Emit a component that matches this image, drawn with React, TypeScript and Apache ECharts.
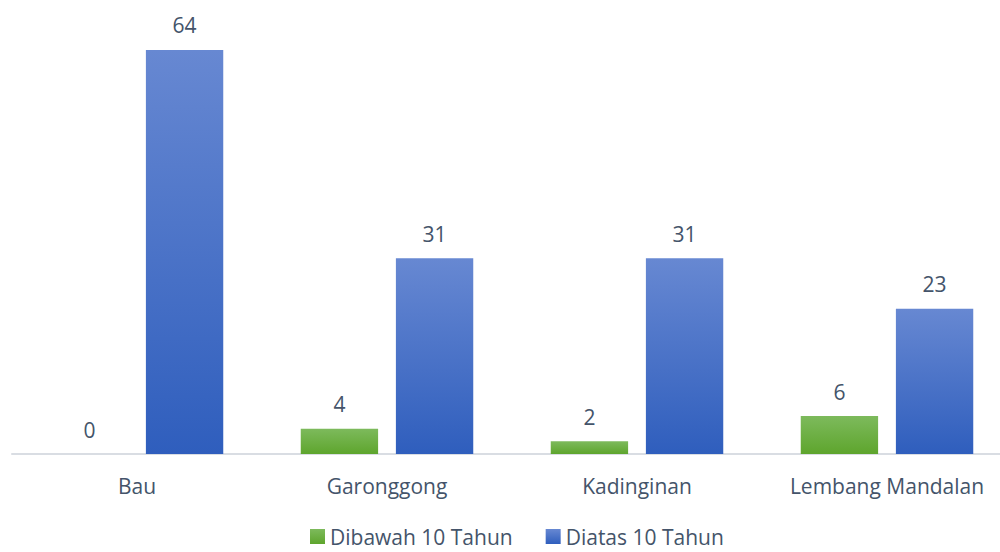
import React, { useEffect, useRef } from "react";
import * as echarts from "echarts";

const categories = ["Bau", "Garonggong", "Kadinginan", "Lembang Mandalan"];
const dibawah = [0, 4, 2, 6];
const diatas = [64, 31, 31, 23];
const seriesNames = ["Dibawah 10 Tahun", "Diatas 10 Tahun"];

const TEXT = "#44546A";
const FONT = "'Open Sans', 'Liberation Sans', sans-serif";
const FS = 21;

export default function App() {
  const ref = useRef<HTMLDivElement>(null);
  useEffect(() => {
    if (!ref.current) return;
    const chart = echarts.init(ref.current, null, { renderer: "svg" });
    const grad = (top: string, bottom: string) =>
      new echarts.graphic.LinearGradient(0, 0, 0, 1, [
        { offset: 0, color: top },
        { offset: 1, color: bottom },
      ]);
    const label = {
      show: true,
      position: "top" as const,
      distance: 14,
      color: TEXT,
      fontSize: FS,
      fontFamily: FONT,
    };
    chart.setOption({
      animation: false,
      textStyle: { fontFamily: FONT },
      grid: { left: 12, top: 12, width: 1000, height: 442, containLabel: false, outerBoundsMode: "none" },
      legend: {
        bottom: 0,
        left: 305,
        itemWidth: 15,
        itemHeight: 15,
        itemGap: 33,
        icon: "rect",
        textStyle: { color: TEXT, fontSize: FS, fontFamily: FONT },
        data: seriesNames,
      },
      xAxis: {
        type: "category",
        data: categories,
        axisLine: { lineStyle: { color: "#D9DDE3", width: 2 } },
        axisTick: { show: false },
        axisLabel: { color: TEXT, fontSize: FS, fontFamily: FONT, margin: 21, interval: 0, hideOverlap: false },
      },
      yAxis: {
        type: "value",
        min: 0,
        max: 70,
        show: false,
        splitLine: { show: false },
      },
      series: [
        {
          name: seriesNames[0],
          type: "bar",
          data: dibawah,
          barGap: "23%",
          barCategoryGap: "31%",
          itemStyle: { color: grad("#7DBA5C", "#5EA52D") },
          label,
        },
        {
          name: seriesNames[1],
          type: "bar",
          data: diatas,
          barGap: "23%",
          barCategoryGap: "31%",
          itemStyle: { color: grad("#6788D2", "#2F5EBD") },
          label,
        },
      ],
    });
    return () => chart.dispose();
  }, []);
  return <div ref={ref} style={{ width: 1000, height: 552, position: "absolute", left: 0, top: 0 }} />;
}
